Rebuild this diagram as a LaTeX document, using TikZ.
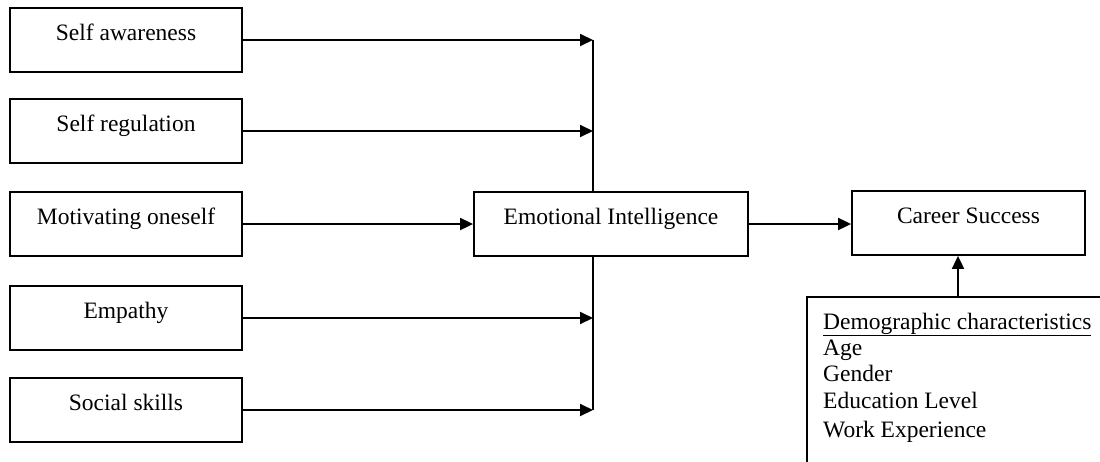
\documentclass[tikz,border=0pt]{standalone}
\usepackage{fontspec}
\setmainfont{Liberation Serif}
\usetikzlibrary{arrows.meta}
\begin{document}
\begin{tikzpicture}[x=1pt,y=-1pt,
  box/.style={draw, line width=1.8pt, inner sep=0pt, text height=12pt, text depth=12pt,
    font=\fontsize{23.5}{27}\selectfont},
  leftbox/.style={box, minimum width=232pt, minimum height=64pt},
  link/.style={line width=1.8pt, -{Triangle[length=13pt,width=12pt]}},
  plain/.style={line width=1.8pt},
  txt/.style={font=\fontsize{23.5}{27}\selectfont, inner sep=0pt, anchor=base west}]
\useasboundingbox (0,0) rectangle (1100,461);
\clip (0,0) rectangle (1100,461);

% the five components
\node[leftbox] (sa) at (126,40)  {Self awareness};
\node[leftbox] (sr) at (126,131) {Self regulation};
\node[leftbox] (mo) at (126,224) {Motivating oneself};
\node[leftbox] (em) at (126,318) {Empathy};
\node[leftbox] (ss) at (126,410) {Social skills};

% central and outcome constructs
\node[box, minimum width=274pt, minimum height=64pt] (ei) at (611,224) {Emotional Intelligence};
\node[box, minimum width=233pt, minimum height=64pt] (cs) at (968.5,223) {Career Success};

% moderator box, running off the page
\node[draw, line width=1.8pt, anchor=north west, minimum width=400pt, minimum height=250pt,
  inner sep=0pt] (demo) at (806,296) {};
\node[txt] (d1) at (823,329)   {\underline{Demographic characteristics}};
\node[txt] (d2) at (823,355)   {Age};
\node[txt] (d3) at (823,381.5) {Gender};
\node[txt] (d4) at (823,408)   {Education Level};
\node[txt] (d5) at (823,437.5) {Work Experience};

% collecting bus
\coordinate (bustop) at (593,40);
\coordinate (busbot) at (593,410);
\draw[plain] (bustop) -- (bustop |- ei.north);
\draw[plain] (ei.south -| busbot) -- (busbot);

\draw[link] (sa.east) -- (sa.east -| bustop);
\draw[link] (sr.east) -- (sr.east -| bustop);
\draw[link] (mo.east) -- (ei.west |- mo.east);
\draw[link] (em.east) -- (em.east -| bustop);
\draw[link] (ss.east) -- (ss.east -| bustop);

\draw[link] (ei.east) -- (cs.west |- ei.east);

\coordinate (up) at (958,296);
\draw[link] (demo.north -| up) -- (cs.south -| up);
\end{tikzpicture}
\end{document}
